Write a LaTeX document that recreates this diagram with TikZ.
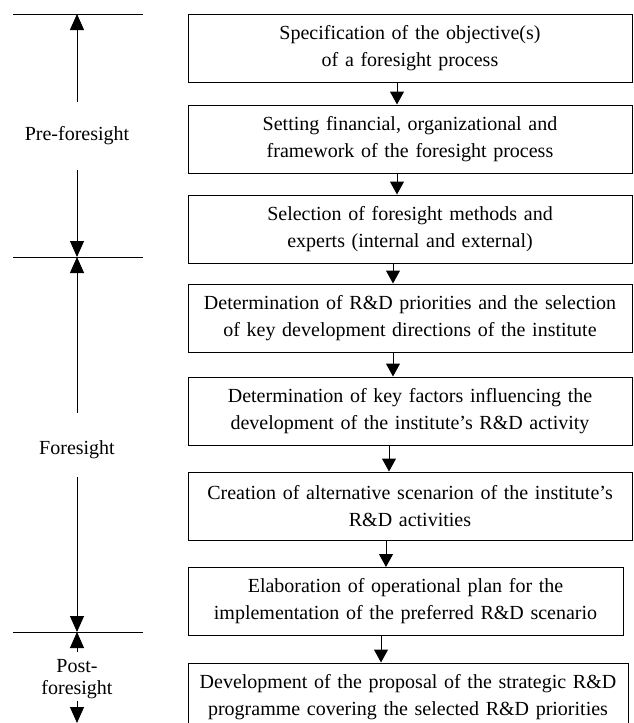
\documentclass[tikz,border=0pt]{standalone}
\usepackage{fontspec}
\setmainfont{Liberation Serif}[WordSpace=0.8]
\usetikzlibrary{arrows.meta}

\tikzset{
  stage/.style={draw, line width=1pt, minimum height=68pt, text width=430pt,
    align=center, inner xsep=7pt, inner ysep=0pt,
    font=\fontsize{20}{27}\selectfont},
  flow/.style={-{Triangle[length=13pt,width=14pt]}, line width=1pt},
  span/.style={-{Triangle[length=16pt,width=14pt]}, line width=0.9pt},
  tick/.style={line width=0.9pt},
  phase/.style={inner xsep=0pt, font=\fontsize{20}{22}\selectfont, align=center}
}

\begin{document}
\begin{tikzpicture}[x=1pt, y=-1pt]
  \useasboundingbox (0,0) rectangle (633,723);

  % stages of the process
  \node[stage] (b1) at (410,48)  {Specification of the objective(s)\\of a foresight process};
  \node[stage] (b2) at (410,139) {Setting financial, organizational and\\framework of the foresight process};
  \node[stage] (b3) at (410,229) {Selection of foresight methods and\\experts (internal and external)};
  \node[stage] (b4) at (410,318) {Determination of R\&D priorities and the selection\\of key development directions of the institute};
  \node[stage] (b5) at (410,411) {Determination of key factors influencing the\\development of the institute’s R\&D activity};
  \node[stage] (b6) at (410,506) {Creation of alternative scenarion of the institute’s\\R\&D activities};
  \node[stage, text width=421pt] (b7) at (405.5,601.5) {Elaboration of operational plan for the\\implementation of the preferred R\&D scenario};
  \node[stage, text width=426pt] (b8) at (408,697) {Development of the proposal of the strategic R\&D\\programme covering the selected R\&D priorities};

  % arrows between stages (slightly drifting to the left)
  \foreach \a/\b/\s in {b1/b2/-13, b2/b3/-13, b3/b4/-17, b4/b5/-17,
                        b5/b6/-21, b6/b7/-24, b7/b8/-29} {
    \path ([xshift=\s pt]b1.south |- \a.south) coordinate (s);
    \draw[flow] (s) -- (s |- \b.north);
  }

  % phase limits
  \coordinate (t0) at (77,14);
  \coordinate (t1) at (77,257);
  \coordinate (t2) at (77,632);
  \coordinate (t3) at (77,723);
  \foreach \t in {t0,t1,t2}
    \draw[tick] ([xshift=-64pt]\t) -- ([xshift=66pt]\t);

  % phase labels
  \node[phase, inner ysep=25pt] (pre) at (77,136) {Pre-foresight};
  \node[phase, inner ysep=18pt] (fore) at (77,450) {Foresight};
  \node[phase, inner ysep=2pt] (post) at (77,679) {Post-\\foresight};

  \draw[span] (pre) -- (t0);
  \draw[span] (pre) -- (t1);
  \draw[span] ([yshift=10pt]fore.north) -- (t1);
  \draw[span] (fore) -- (t2);
  \draw[span] ([yshift=5pt]post.north) -- (t2);
  \draw[span] (post) -- (t3);
\end{tikzpicture}
\end{document}
